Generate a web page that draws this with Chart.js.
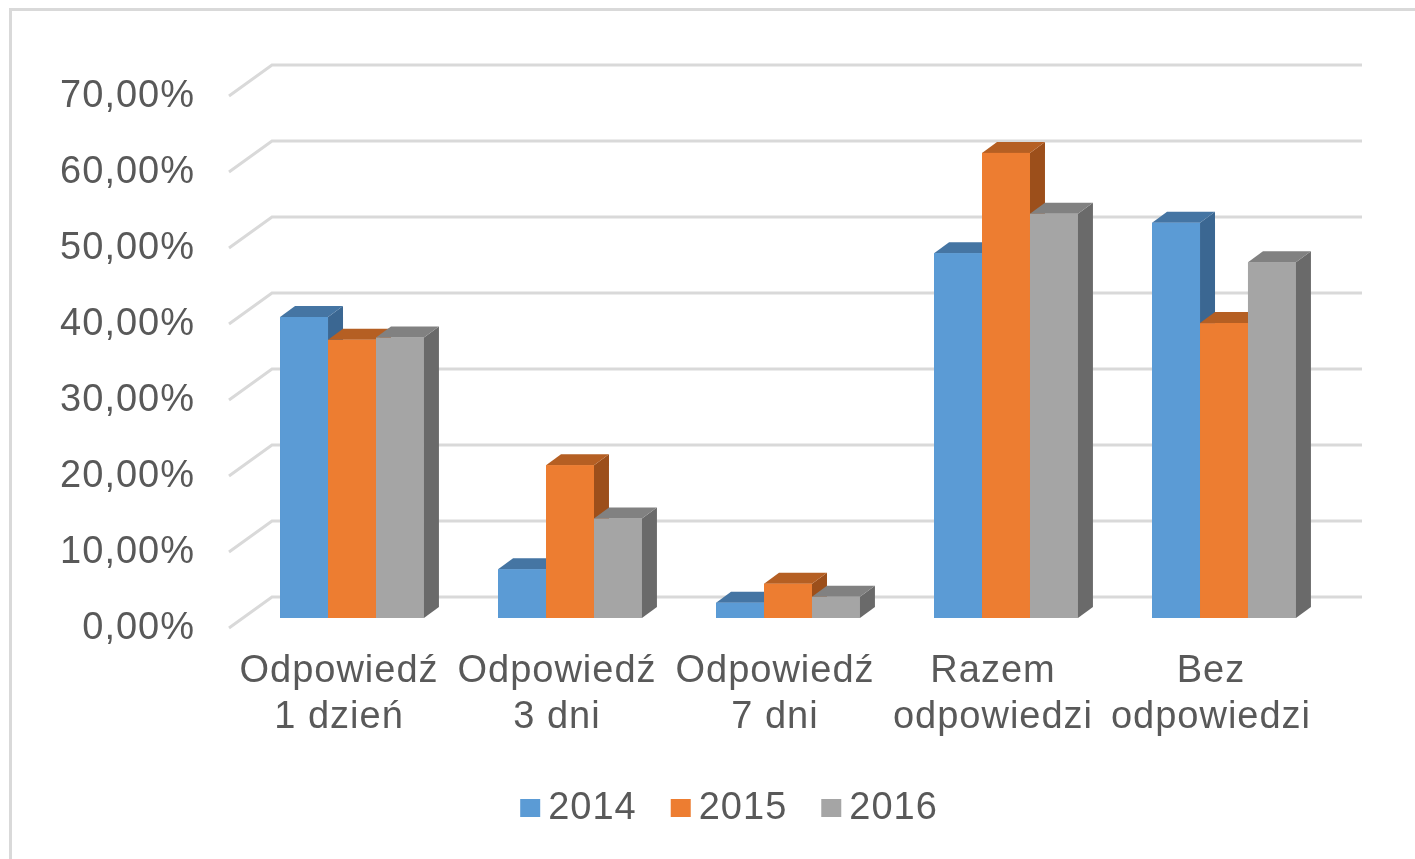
<!DOCTYPE html>
<html>
<head>
<meta charset="utf-8">
<script src="https://cdn.jsdelivr.net/npm/chart.js@4.4.1/dist/chart.umd.min.js"></script>
<style>
  html, body { margin:0; padding:0; background:#fff; overflow:hidden; }
  #wrap { width:1415px; height:859px; position:relative; }
</style>
</head>
<body>
<div id="wrap"><canvas id="myChart" width="1415" height="859"></canvas></div>
<script>
// ---- data ----
const categories = [
    ['Odpowiedź', '1 dzień'],
    ['Odpowiedź', '3 dni'],
    ['Odpowiedź', '7 dni'],
    ['Razem', 'odpowiedzi'],
    ['Bez', 'odpowiedzi']
];
const years = ['2014', '2015', '2016'];
const values2014 = [39.6, 6.4, 2.0, 48.0, 52.0];
const values2015 = [36.6, 20.1, 4.5, 61.2, 38.8];
const values2016 = [36.9, 13.1, 2.8, 53.2, 46.8];
const yMax = 70;
const yStep = 10;

// ---- style ----
const frontColors = ['#5b9bd5', '#ed7d31', '#a5a5a5'];
const topColors   = ['#4575a3', '#b55f23', '#818181'];
const sideColors  = ['#3b6792', '#9c4f1b', '#6a6a6a'];
const textColor = '#595959';
const gridColor = '#d9d9d9';
const fontFamily = '"Liberation Sans", Arial, sans-serif';

// 3d offsets relative to the bar front plane
const FRONT = {x: -14, y: 10};
const BACK  = {x: 29,  y: -21};
const DEPTH = {x: 15,  y: -11};

const fmt = v => v.toFixed(2).replace('.', ',') + '%';

// gridlines + fake 3d faces
const fake3d = {
    id: 'fake3d',
    beforeDraw(chart) {
        chart.ctx.letterSpacing = '1px';
    },
    beforeDatasetsDraw(chart) {
        const ctx = chart.ctx, ys = chart.scales.y, area = chart.chartArea;
        ctx.save();
        ctx.strokeStyle = gridColor;
        ctx.lineWidth = 3;
        ys.ticks.forEach(t => {
            const y = ys.getPixelForValue(t.value);
            ctx.beginPath();
            ctx.moveTo(area.left + FRONT.x, y + FRONT.y);
            ctx.lineTo(area.left + BACK.x, y + BACK.y);
            ctx.lineTo(area.right + BACK.x, y + BACK.y);
            ctx.stroke();
        });
        ctx.restore();
    },
    afterDatasetsDraw(chart) {
        const ctx = chart.ctx;
        const n = chart.data.labels.length;
        ctx.save();
        for (let i = 0; i < n; i++) {
            chart.data.datasets.forEach((ds, j) => {
                const el = chart.getDatasetMeta(j).data[i];
                const p = el.getProps(['x', 'y', 'base', 'width'], true);
                const l = p.x - p.width / 2, r = p.x + p.width / 2;
                const top = p.y, base = p.base;
                // side
                ctx.fillStyle = sideColors[j];
                ctx.beginPath();
                ctx.moveTo(r, top);
                ctx.lineTo(r + DEPTH.x, top + DEPTH.y);
                ctx.lineTo(r + DEPTH.x, base + DEPTH.y);
                ctx.lineTo(r, base);
                ctx.closePath();
                ctx.fill();
                // top
                ctx.fillStyle = topColors[j];
                ctx.beginPath();
                ctx.moveTo(l, top);
                ctx.lineTo(r, top);
                ctx.lineTo(r + DEPTH.x, top + DEPTH.y);
                ctx.lineTo(l + DEPTH.x, top + DEPTH.y);
                ctx.closePath();
                ctx.fill();
                // front
                ctx.fillStyle = frontColors[j];
                ctx.fillRect(l, top, r - l, base - top);
            });
        }
        ctx.restore();
    },
    afterDraw(chart) {
        const ctx = chart.ctx;
        ctx.save();
        // outer frame (top + left visible)
        ctx.fillStyle = gridColor;
        ctx.fillRect(9, 8, 1406, 3);
        ctx.fillRect(9, 8, 3, 851);
        // legend
        ctx.font = '38px ' + fontFamily;
        ctx.textBaseline = 'middle';
        const boxW = 20, boxH = 18, gap = 8, itemGap = 34;
        const widths = chart.data.datasets.map(d => boxW + gap + ctx.measureText(d.label).width);
        const total = widths.reduce((a, b) => a + b, 0) + itemGap * (widths.length - 1);
        let x = 729 - total / 2;
        const cy = 808;
        chart.data.datasets.forEach((d, j) => {
            ctx.fillStyle = frontColors[j];
            ctx.fillRect(x, cy - boxH / 2, boxW, boxH);
            ctx.fillStyle = textColor;
            ctx.fillText(d.label, x + boxW + gap, cy + 1);
            x += widths[j] + itemGap;
        });
        ctx.restore();
    }
};

const ctx = document.getElementById('myChart').getContext('2d');
const chart = new Chart(ctx, {
    type: 'bar',
    data: {
        labels: categories,
        datasets: [
            { label: years[0], data: values2014, backgroundColor: frontColors[0] },
            { label: years[1], data: values2015, backgroundColor: frontColors[1] },
            { label: years[2], data: values2016, backgroundColor: frontColors[2] }
        ]
    },
    options: {
        responsive: false,
        animation: false,
        devicePixelRatio: 1,
        layout: { padding: { top: 86, right: 82, left: 0, bottom: 0 } },
        datasets: { bar: { categoryPercentage: 0.66, barPercentage: 1, borderWidth: 0 } },
        plugins: { legend: { display: false }, tooltip: { enabled: false } },
        scales: {
            x: {
                grid: { display: false, drawTicks: false },
                border: { display: false },
                ticks: {
                    color: textColor,
                    font: { family: fontFamily, size: 38, lineHeight: 1.21 },
                    padding: 31,
                    labelOffset: -13,
                    maxRotation: 0,
                    autoSkip: false
                },
                afterFit(scale) { scale.height = 241; }
            },
            y: {
                min: 0,
                max: yMax,
                grid: { display: false, drawTicks: false },
                border: { display: false },
                ticks: {
                    stepSize: yStep,
                    color: textColor,
                    font: { family: fontFamily, size: 38 },
                    padding: 48,
                    labelOffset: 11,
                    callback: v => fmt(v)
                },
                afterFit(scale) { scale.width = 243; }
            }
        }
    },
    plugins: [fake3d]
});
</script>
</body>
</html>
